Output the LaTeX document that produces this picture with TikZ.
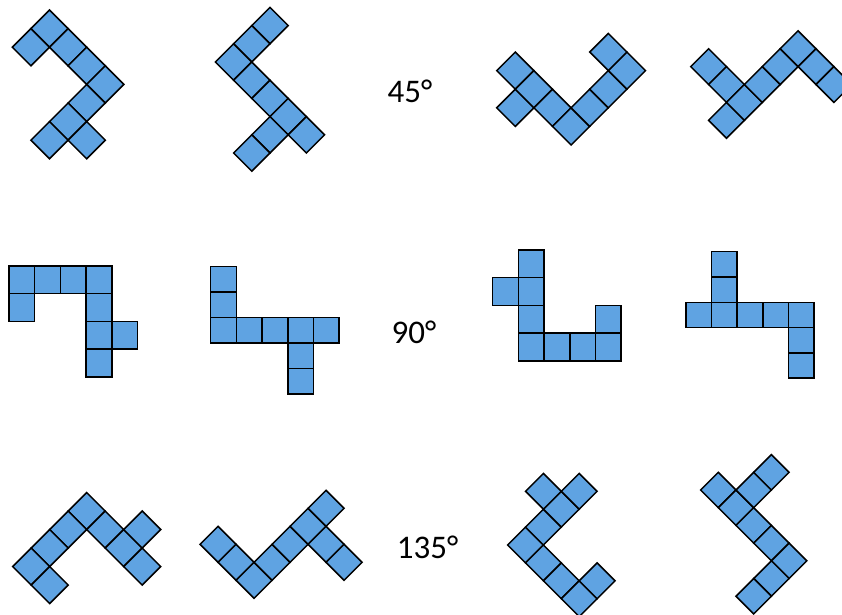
\documentclass[tikz,border=0pt]{standalone}
\usepackage{fontspec}
\setmainfont{Carlito}
\definecolor{cellblue}{RGB}{95,163,226}
\tikzset{
  cell/.style={draw=black, fill=cellblue, line width=1.5pt, line join=miter},
  angle label/.style={inner sep=0pt, font=\fontsize{33}{40}\selectfont}
}
% diamond cells: #1 = centre of reference cell, #2 = half diagonal, #3 = list i/j
\newcommand\diamondset[3]{%
  \begin{scope}[shift={#1}, x=#2pt, y=-#2pt]
    \foreach \i/\j in {#3}{\draw[cell] (\i-1,\j) -- (\i,\j-1) -- (\i+1,\j) -- (\i,\j+1) -- cycle;}
  \end{scope}}
% square cells: #1 = top-left corner, #2 = width, #3 = height, #4 = list col/row
\newcommand\squareset[4]{%
  \begin{scope}[shift={#1}, x=#2pt, y=-#3pt]
    \foreach \i/\j in {#4}{\draw[cell] (\i,\j) rectangle (\i+1,\j+1);}
  \end{scope}}
\begin{document}
\begin{tikzpicture}[x=1pt, y=-1pt]
\useasboundingbox (0,0) rectangle (842,614);
\clip (0,0) rectangle (842,614);
\fill[white] (0,0) rectangle (842,614);
% row 1 : 45 degrees
\diamondset{(49.5,28.6)}{18.6}{0/0,-1/1,1/1,2/2,3/3,2/4,1/5,0/6,2/6}
\diamondset{(270,25.6)}{18.2}{0/0,-1/1,-2/2,-1/3,0/4,1/5,2/6,0/6,-1/7}
\diamondset{(496.7,89.2)}{18.6}{1/-1,1/1,2/0,3/1,4/2,5/1,6/0,7/-1,6/-2}
\diamondset{(690.7,84.5)}{17.9}{1/-1,2/0,2/2,3/1,4/0,5/-1,6/-2,7/-1,8/0}
% row 2 : 90 degrees
\squareset{(9,266)}{25.7}{27.7}{0/0,1/0,2/0,3/0,0/1,3/1,3/2,4/2,3/3}
\squareset{(210.7,266.7)}{25.7}{25.5}{0/0,0/1,0/2,1/2,2/2,3/2,4/2,3/3,3/4}
\squareset{(492.7,250)}{25.7}{27.7}{1/0,0/1,1/1,1/2,4/2,1/3,2/3,3/3,4/3}
\squareset{(686,251.7)}{25.6}{25.3}{1/0,1/1,0/2,1/2,2/2,3/2,4/2,4/3,4/4}
% row 3 : 135 degrees
\diamondset{(86.7,511)}{18.5}{0/0,-1/1,-2/2,-3/3,-2/4,1/1,2/2,3/3,3/1}
\diamondset{(254,580.3)}{18}{-2/-2,-1/-1,0/0,1/-1,2/-2,3/-3,4/-4,4/-2,5/-1}
\diamondset{(525.5,545)}{17.9}{0/0,1/1,2/2,3/3,4/2,1/-1,2/-2,1/-3,3/-3}
\diamondset{(718.3,490)}{17.7}{0/0,1/1,2/2,3/3,4/4,2/0,3/-1,3/5,2/6}
% labels
\node[angle label] (l45) at (410,91.7) {45°};
\node[angle label] (l90) at (414,332.5) {90°};
\node[angle label] (l135) at (427.5,547.5) {135°};
\end{tikzpicture}
\end{document}
